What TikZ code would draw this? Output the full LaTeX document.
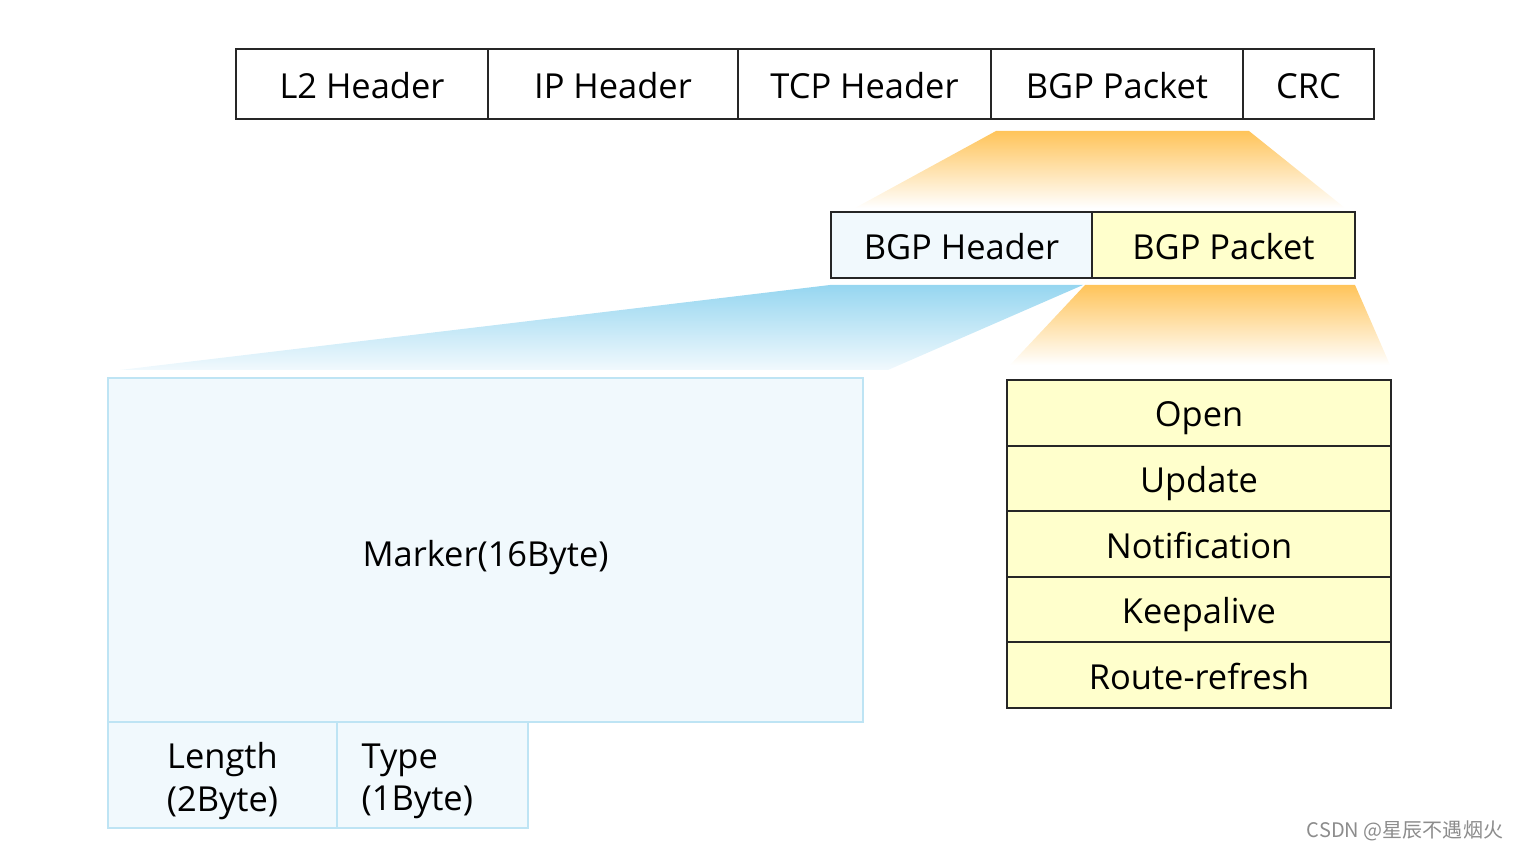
\documentclass[tikz,border=0pt]{standalone}
\usepackage{fontspec}
\setmainfont{Open Sans}
\newfontfamily\cjk{Noto Sans CJK SC}
\definecolor{hdrblue}{RGB}{241,249,253}
\definecolor{bdrblue}{RGB}{190,228,244}
\definecolor{pktyellow}{RGB}{255,255,204}
\definecolor{gorange}{RGB}{255,196,90}
\definecolor{gblue}{RGB}{150,214,240}
\begin{document}
\begin{tikzpicture}[x=1cm,y=1cm,
  cell/.style={draw=black!85, line width=0.6pt, anchor=north west, inner sep=0pt, outer sep=0pt,
    font=\fontsize{9.8}{12}\selectfont, text height=1.75ex, text depth=0.25ex},
  bluecell/.style={draw=bdrblue, fill=hdrblue, line width=0.6pt, anchor=north west, inner sep=0pt, outer sep=0pt,
    font=\fontsize{9.8}{12}\selectfont, text height=1.9ex, text depth=0.1ex},
  fieldtext/.style={inner sep=0pt, font=\fontsize{9.8}{12}\selectfont},
  listcell/.style={cell, fill=pktyellow, minimum width=3.84cm, minimum height=0.656cm}]
\useasboundingbox (0,0) rectangle (15.16,-8.5);
% gradient trapezoids
\shade[top color=gorange, bottom color=white] (9.96,-1.31) -- (12.49,-1.31) -- (13.45,-2.08) -- (8.55,-2.08) -- cycle;
\shade[top color=gblue, bottom color=hdrblue] (8.30,-2.85) -- (10.83,-2.85) -- (8.88,-3.70) -- (1.20,-3.70) -- cycle;
\shade[top color=gorange, bottom color=white] (10.85,-2.85) -- (13.55,-2.85) -- (13.90,-3.65) -- (10.10,-3.65) -- cycle;
% top row
\node[cell, minimum width=2.52cm, minimum height=0.70cm] (l2) at (2.36,-0.49) {L2 Header};
\node[cell, minimum width=2.50cm, minimum height=0.70cm] (ip) at (l2.north east) {IP Header};
\node[cell, minimum width=2.53cm, minimum height=0.70cm] (tcp) at (ip.north east) {TCP Header};
\node[cell, minimum width=2.52cm, minimum height=0.70cm] (bgp) at (tcp.north east) {BGP Packet};
\node[cell, minimum width=1.31cm, minimum height=0.70cm] (crc) at (bgp.north east) {CRC};
% middle row
\node[cell, fill=hdrblue, minimum width=2.61cm, minimum height=0.66cm] (bh) at (8.31,-2.12) {BGP Header};
\node[cell, fill=pktyellow, minimum width=2.63cm, minimum height=0.66cm] (bp) at (bh.north east) {BGP Packet};
% header fields
\node[bluecell, minimum width=7.55cm, minimum height=3.44cm] (marker) at (1.08,-3.78) {Marker(16Byte)};
\node[bluecell, minimum width=2.29cm, minimum height=1.06cm] (len) at (marker.south west) {};
\node[bluecell, minimum width=1.91cm, minimum height=1.06cm] (typ) at (len.north east) {};
\node[fieldtext, align=center] (lentxt) at ([yshift=-0.06cm]len.center) {Length\\(2Byte)};
\node[fieldtext, align=left, anchor=west] (typtxt) at ([xshift=0.24cm,yshift=-0.06cm]typ.west) {Type\\(1Byte)};
% message types
\node[listcell] (open) at (10.07,-3.80) {Open};
\node[listcell] (upd) at (open.south west) {Update};
\node[listcell] (notif) at (upd.south west) {Notification};
\node[listcell] (keep) at (notif.south west) {Keepalive};
\node[listcell] (rr) at (keep.south west) {Route-refresh};
% watermark
\node[text=black!45, font=\cjk\fontsize{5.7}{7}\selectfont] (wm) at (14.05,-8.31) {CSDN @星辰不遇烟火};
\end{tikzpicture}
\end{document}
